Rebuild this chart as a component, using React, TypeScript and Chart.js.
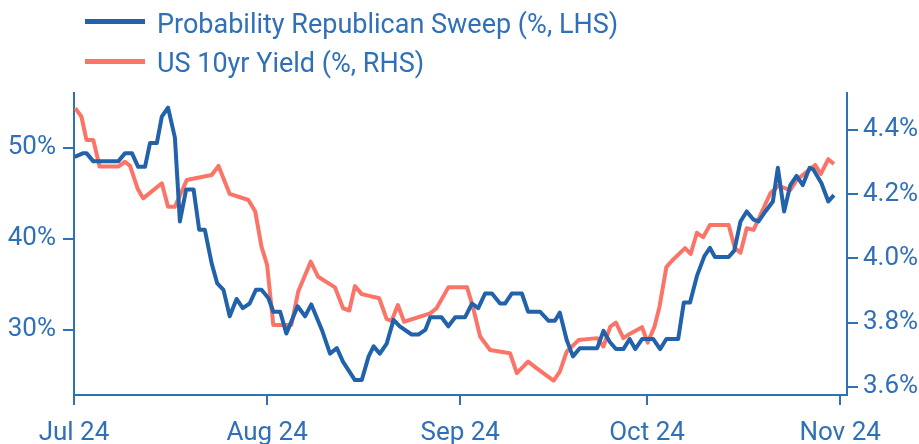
import React, { useEffect, useRef } from "react";
import { Chart, registerables } from "chart.js";

Chart.register(...registerables);

// Days since 1 Jul 2024
const blueDays = [
  0.1, 1.5, 2.0, 3.1, 7.1, 8.2, 9.3, 10.3, 11.4, 12.2, 13.3, 14.1, 15.1, 16.2, 17.0, 18.0, 19.2, 20.1, 21.0,
  22.1, 23.0, 24.0, 25.0, 26.1, 27.1, 28.2, 29.2, 30.1, 31.2, 32.0, 33.1, 34.1, 35.9, 37.1, 38.1, 39.8, 41.1,
  42.2, 43.2, 45.1, 46.2, 47.3, 48.1, 49.1, 50.2, 51.3, 52.3, 54.2, 55.3, 56.4, 57.2, 59.0, 60.1, 61.2, 62.8,
  63.9, 64.9, 66.0, 67.1, 68.4, 69.2, 70.3, 71.9, 72.9, 74.8, 76.2, 77.2, 78.0, 79.1, 80.1, 81.2, 84.0, 85.0,
  86.0, 87.0, 88.2, 89.2, 90.1, 91.2, 93.0, 94.1, 95.1, 97.0, 97.9, 98.9, 100.0, 101.2, 102.1, 102.9, 105.1,
  106.0, 107.0, 108.0, 109.1, 109.9, 111.0, 112.2, 113.0, 114.0, 115.0, 116.0, 117.0, 118.1, 118.7, 120.0,
  121.1, 122.0,
];
const blueValues = [
  49.0, 49.4, 49.4, 48.5, 48.5, 49.4, 49.4, 47.9, 47.9, 50.5, 50.5, 53.4, 54.4, 51.1, 41.9, 45.4, 45.4, 41.0, 41.0,
  37.3, 35.1, 34.4, 31.5, 33.4, 32.4, 32.9, 34.4, 34.4, 33.5, 32.0, 32.0, 29.6, 32.6, 31.5, 32.8, 30.0, 27.4,
  28.0, 26.5, 24.5, 24.5, 27.1, 28.2, 27.4, 28.5, 31.1, 30.4, 29.5, 29.5, 30.0, 31.4, 31.4, 30.4, 31.4, 31.4,
  32.9, 32.4, 34.0, 34.0, 32.9, 32.9, 34.0, 34.0, 32.0, 32.0, 31.0, 31.0, 31.9, 28.9, 27.1, 28.0, 28.0, 29.9,
  28.7, 27.9, 27.9, 29.0, 27.9, 29.0, 29.0, 27.9, 29.0, 29.0, 33.0, 33.0, 35.9, 38.1, 39.0, 38.0, 38.0,
  38.7, 41.9, 43.0, 42.1, 41.9, 43.0, 44.1, 47.8, 43.0, 45.9, 46.9, 45.9, 47.8, 47.6, 46.1,
  44.1, 44.8,
];

const redDays = [
  0.2, 1.2, 2.0, 3.1, 4.1, 7.1, 8.2, 9.0, 10.2, 11.1, 14.1, 15.1, 16.2, 18.1, 22.1, 23.2, 25.0, 28.0, 29.1,
  30.1, 31.0, 32.0, 34.9, 36.0, 38.0, 39.2, 41.9, 43.2, 44.2, 45.1, 46.2, 49.0, 50.2, 51.0, 52.0, 53.0, 57.2,
  58.2, 60.1, 63.1, 64.1, 65.2, 66.8, 70.0, 71.1, 72.9, 74.3, 77.0, 78.0, 79.1, 81.0, 84.0, 85.0, 86.1, 87.0,
  88.2, 89.2, 91.2, 92.1, 93.2, 94.0, 95.1, 96.0, 98.1, 99.0, 100.0, 101.0, 102.1, 105.1, 106.1, 107.0, 108.0,
  109.1, 111.8, 113.1, 115.0, 116.0, 119.0, 119.9, 121.1, 122.0,
];
const redValues = [
  4.468, 4.441, 4.369, 4.369, 4.286, 4.286, 4.301, 4.288, 4.218, 4.187, 4.234, 4.161, 4.161, 4.244, 4.26, 4.288,
  4.201, 4.182, 4.146, 4.037, 3.98, 3.793, 3.793, 3.897, 3.99, 3.943, 3.91, 3.845, 3.838, 3.914, 3.889, 3.876,
  3.811, 3.806, 3.855, 3.803, 3.829, 3.845, 3.91, 3.91, 3.845, 3.757, 3.715, 3.705, 3.643, 3.679, 3.658, 3.62,
  3.648, 3.71, 3.746, 3.752, 3.726, 3.788, 3.8, 3.752, 3.765, 3.786, 3.738, 3.788, 3.85, 3.973, 3.993, 4.032,
  4.014, 4.08, 4.066, 4.104, 4.104, 4.032, 4.018, 4.094, 4.089, 4.203, 4.226, 4.213, 4.244, 4.291, 4.263, 4.309,
  4.294,
];

const xTickDays = [0, 31, 62, 92, 123];
const xTickLabels = ["Jul 24", "Aug 24", "Sep 24", "Oct 24", "Nov 24"];
const leftTicks = [30, 40, 50];
const rightTicks = [3.6, 3.8, 4.0, 4.2, 4.4];
const legendLabels = ["Probability Republican Sweep (%, LHS)", "US 10yr Yield (%, RHS)"];

const BLUE = "#2162aa";
const RED = "#fa7468";
const AXIS = "#3070b8";
const FONT = "Roboto";

export default function App() {
  const ref = useRef<HTMLCanvasElement | null>(null);

  useEffect(() => {
    if (!ref.current) return;
    const tickFont = { family: FONT, size: 26 };
    const chart = new Chart(ref.current, {
      type: "line",
      data: {
        datasets: [
          {
            label: legendLabels[0],
            data: blueDays.map((d, i) => ({ x: d, y: blueValues[i] })),
            yAxisID: "yL",
            borderColor: BLUE,
            backgroundColor: BLUE,
            borderWidth: 4,
            pointRadius: 0,
            tension: 0,
            borderJoinStyle: "round",
          },
          {
            label: legendLabels[1],
            data: redDays.map((d, i) => ({ x: d, y: redValues[i] })),
            yAxisID: "yR",
            borderColor: RED,
            backgroundColor: RED,
            borderWidth: 4,
            pointRadius: 0,
            tension: 0,
            borderJoinStyle: "round",
          },
        ],
      },
      options: {
        responsive: false,
        animation: false,
        layout: { padding: { top: 93, left: 0, right: 0, bottom: 0 } },
        plugins: { legend: { display: false }, tooltip: { enabled: false } },
        scales: {
          x: {
            type: "linear",
            min: 0,
            max: 124.1,
            afterBuildTicks: (a: any) => {
              a.ticks = xTickDays.map((v) => ({ value: v }));
            },
            afterFit: (s: any) => {
              s.height = 49;
            },
            ticks: {
              callback: (v: any) => {
                const i = xTickDays.indexOf(Number(v));
                return i >= 0 ? xTickLabels[i] : "";
              },
              color: AXIS,
              font: tickFont,
              padding: 13,
              maxRotation: 0,
              autoSkip: false,
            },
            grid: { drawOnChartArea: false, drawTicks: true, tickLength: 10, color: AXIS, lineWidth: 2 },
            border: { color: AXIS, width: 2 },
          },
          yL: {
            type: "linear",
            position: "left",
            min: 22.86,
            max: 56.0,
            afterBuildTicks: (a: any) => {
              a.ticks = leftTicks.map((v) => ({ value: v }));
            },
            afterFit: (s: any) => {
              s.width = 74;
            },
            ticks: {
              callback: (v: any) => `${v}%`,
              color: AXIS,
              font: tickFont,
              padding: 7,
            },
            grid: { drawOnChartArea: false, drawTicks: true, tickLength: 11, color: AXIS, lineWidth: 2 },
            border: { color: AXIS, width: 2 },
          },
          yR: {
            type: "linear",
            position: "right",
            min: 3.575,
            max: 4.515,
            afterBuildTicks: (a: any) => {
              a.ticks = rightTicks.map((v) => ({ value: v }));
            },
            afterFit: (s: any) => {
              s.width = 72;
            },
            ticks: {
              callback: (v: any) => `${Number(v).toFixed(1)}%`,
              color: AXIS,
              font: tickFont,
              padding: 5,
            },
            grid: { drawOnChartArea: false, drawTicks: true, tickLength: 11, color: AXIS, lineWidth: 2 },
            border: { color: AXIS, width: 2 },
          },
        },
      },
    } as any);
    return () => chart.destroy();
  }, []);

  const colors = [BLUE, RED];
  const lineTops = [19, 59];
  const textTops = [11, 50];

  return (
    <div style={{ position: "absolute", left: 0, top: 0, width: 919, height: 444, background: "#fff" }}>
      <canvas ref={ref} width={919} height={444} style={{ display: "block", width: 919, height: 444 }} />
      {legendLabels.map((t, i) => (
        <React.Fragment key={t}>
          <div
            style={{
              position: "absolute",
              left: 85,
              top: lineTops[i],
              width: 60,
              height: 5,
              background: colors[i],
            }}
          />
          <div
            style={{
              position: "absolute",
              left: 157,
              top: textTops[i],
              fontFamily: FONT,
              fontSize: 27,
              lineHeight: "26px",
              color: AXIS,
              whiteSpace: "nowrap",
            }}
          >
            {t}
          </div>
        </React.Fragment>
      ))}
    </div>
  );
}
